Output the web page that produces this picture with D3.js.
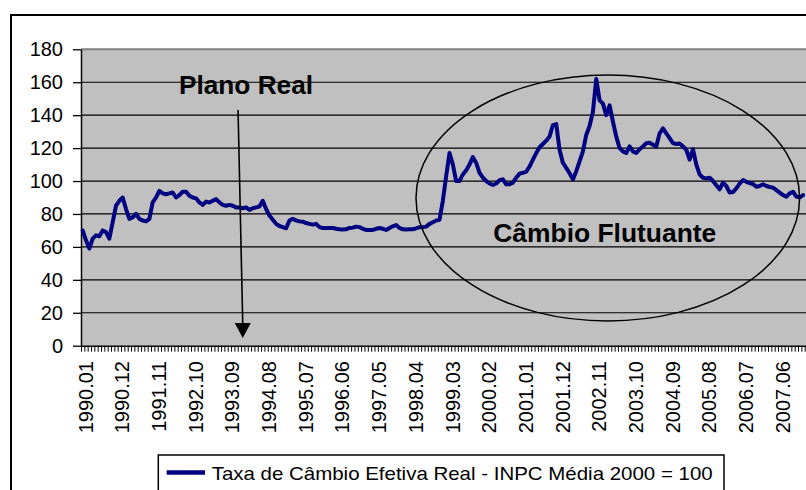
<!DOCTYPE html>
<html><head><meta charset="utf-8">
<script src="https://cdn.jsdelivr.net/npm/d3@7"></script>
<style>
html,body{margin:0;padding:0;background:#fff;}
svg{display:block;}
text{font-family:"Liberation Sans",Arial,Helvetica,sans-serif;}
</style></head>
<body>
<svg id="c" width="806" height="490"></svg>
<script>
// ---- data ----
const startYear = 1990, startMonth = 1, nMonths = 217; // 1990.01 .. 2008.01
const categories = d3.range(nMonths).map(i => {
  const m = (startMonth - 1 + i);
  const yy = startYear + Math.floor(m / 12), mm = (m % 12) + 1;
  return yy + "." + (mm < 10 ? "0" + mm : mm);
});
const seriesName = "Taxa de Câmbio Efetiva Real - INPC Média 2000 = 100";
const values = [
  70, 64, 59, 65, 67, 66.5, 70, 69, 65, 75,
  85, 88, 90, 83, 77, 78, 80, 77, 76, 75.5,
  77, 87, 90, 94, 92.5, 92, 92.5, 93, 90, 91.5,
  93.5, 93.5, 91, 90, 89.5, 87, 85.5, 87.5, 87, 88,
  89, 87, 85.5, 85, 85.5, 85, 84, 84, 83.5, 84,
  82.5, 83.5, 84, 84.5, 88, 83, 79, 76.5, 74, 72.7,
  72, 71.3, 76, 77, 76, 75.5, 75.3, 74.5, 74, 73.5,
  74, 72, 71.5, 71.5, 71.5, 71.5, 71, 70.7, 70.5, 70.7,
  71.5, 71.7, 72.3, 72, 71, 70.3, 70.3, 70.3, 71, 71.5,
  71, 70.3, 71.5, 72.5, 73.3, 71.5, 70.7, 70.5, 70.7, 70.7,
  71.3, 72, 72, 72.3, 74, 75, 76, 76.5, 88, 103,
  117, 110, 100, 100, 104, 106.5, 110, 114.5, 111, 105,
  102, 100, 98.5, 97.6, 98.5, 100.5, 101, 98, 98, 99,
  102, 104.5, 105, 105.7, 108.7, 113, 117, 120.5, 122.5, 124.5,
  127, 134, 134.6, 119, 111, 108, 104.7, 101, 106, 112,
  118, 128, 133.4, 142, 162, 149, 147, 140, 146, 136,
  127, 120, 118, 117, 121, 118, 117, 119.3, 121, 123,
  123.3, 122, 121, 129, 132, 129, 126, 123, 122.5, 122.8,
  121, 119, 113, 119.3, 110, 104, 102, 101.6, 102, 100,
  97.5, 95, 99, 97, 93, 93.3, 95.5, 98.5, 100.6, 99.5,
  98.8, 98.2, 96.5, 97, 98, 97, 96.4, 96, 94.5, 93,
  91.5, 90.5, 92.5, 93.5, 90.5, 90, 91.5
];
const tickLabels = ["1990.01","1990.12","1991.11","1992.10","1993.09","1994.08","1995.07",
  "1996.06","1997.05","1998.04","1999.03","2000.02","2001.01","2001.12","2002.11",
  "2003.10","2004.09","2005.08","2006.07","2007.06"];
const yTicks = [0, 20, 40, 60, 80, 100, 120, 140, 160, 180];
const annotPlano = "Plano Real";
const annotPlanoCategory = "1994.01";
const annotFlut = "Câmbio Flutuante";

// ---- layout ----
const svg = d3.select("#c");
const pLeft = 81, pTop = 49.3, pBottom = 345.7, step = 3.335, pEnd = 830;
const pRight = pLeft + nMonths * step;

const x = d3.scaleBand().domain(categories).range([pLeft, pRight]).padding(0);
const xb = d3.scaleLinear().domain([0, nMonths]).range([pLeft, pRight]);
const y = d3.scaleLinear().domain([0, 180]).range([pBottom, pTop]);

// outer chart border
svg.append("rect").attr("x", 11).attr("y", 15).attr("width", 840).attr("height", 520)
  .attr("fill", "#fff").attr("stroke", "#000").attr("stroke-width", 2);

// plot area
svg.append("rect").attr("x", pLeft).attr("y", pTop).attr("width", pEnd - pLeft).attr("height", pBottom - pTop)
  .attr("fill", "#c0c0c0");
svg.append("line").attr("x1", pLeft).attr("x2", pEnd).attr("y1", pTop).attr("y2", pTop)
  .attr("stroke", "#808080").attr("stroke-width", 2);

// gridlines
svg.append("g").selectAll("line").data(yTicks.filter(d => d > 0 && d < 180)).join("line")
  .attr("x1", pLeft).attr("x2", pEnd).attr("y1", d => y(d)).attr("y2", d => y(d))
  .attr("stroke", "#000").attr("stroke-width", 1.2);

// y axis
const yAxis = svg.append("g").attr("transform", `translate(${pLeft},0)`)
  .call(d3.axisLeft(y).tickValues(yTicks).tickSize(8).tickPadding(10).tickSizeOuter(0));
yAxis.select(".domain").attr("stroke", "#000").attr("stroke-width", 1.5);
yAxis.selectAll(".tick line").attr("stroke", "#000").attr("stroke-width", 1.3);
yAxis.selectAll(".tick text").attr("font-size", 20).attr("fill", "#000")
  .attr("font-family", "'Liberation Sans',Arial,sans-serif");

// x axis ticks (at category boundaries)
const xAxis = svg.append("g").attr("transform", `translate(0,${pBottom})`)
  .call(d3.axisBottom(xb).tickValues(d3.range(0, nMonths + 1)).tickSize(6).tickFormat("").tickSizeOuter(0));
xAxis.select(".domain").attr("stroke", "#000").attr("stroke-width", 1.5).attr("d", `M${pLeft},0.5H${pEnd}`);
xAxis.selectAll(".tick line").attr("stroke", "#000").attr("stroke-width", 1);

// x tick labels
svg.append("g").selectAll("text").data(tickLabels).join("text")
  .attr("transform", d => `translate(${x(d) + x.bandwidth() / 2 + 3},361) rotate(-90)`)
  .attr("text-anchor", "end").attr("dy", "0.35em")
  .attr("font-size", 20).attr("fill", "#000").text(d => d);

// series line
const line = d3.line().x((d, i) => x(categories[i]) + x.bandwidth() / 2).y(d => y(d));
svg.append("path").datum(values).attr("d", line).attr("fill", "none")
  .attr("stroke", "#000080").attr("stroke-width", 4)
  .attr("stroke-linejoin", "round").attr("stroke-linecap", "round");

// ellipse annotation
svg.append("ellipse").attr("cx", 607.8).attr("cy", 198).attr("rx", 191.8).attr("ry", 123)
  .attr("fill", "none").attr("stroke", "#000").attr("stroke-width", 1.5);
svg.append("text").attr("x", 493.3).attr("y", 242.3).attr("font-size", 25.5).attr("font-weight", "bold")
  .attr("textLength", 223).attr("lengthAdjust", "spacingAndGlyphs").attr("fill", "#000").text(annotFlut);

// Plano Real annotation
svg.append("text").attr("x", 179).attr("y", 94).attr("font-size", 25).attr("font-weight", "bold")
  .attr("textLength", 134).attr("lengthAdjust", "spacingAndGlyphs").attr("fill", "#000").text(annotPlano);
const ax = x(annotPlanoCategory) + x.bandwidth() / 2;
svg.append("line").attr("x1", ax - 4.7).attr("y1", 110).attr("x2", ax).attr("y2", 324)
  .attr("stroke", "#000").attr("stroke-width", 1.6);
svg.append("path").attr("d", `M${ax - 8},323 L${ax + 8},323 L${ax},338 Z`).attr("fill", "#000");

// legend
svg.append("rect").attr("x", 158.3).attr("y", 455).attr("width", 565.7).attr("height", 60)
  .attr("fill", "#fff").attr("stroke", "#000").attr("stroke-width", 1.5);
svg.append("line").attr("x1", 166.7).attr("x2", 205).attr("y1", 472.5).attr("y2", 472.5)
  .attr("stroke", "#000080").attr("stroke-width", 4.5);
svg.append("text").attr("x", 211.7).attr("y", 479.5).attr("font-size", 19)
  .attr("textLength", 501).attr("lengthAdjust", "spacingAndGlyphs").attr("fill", "#000").text(seriesName);
</script>
</body></html>
